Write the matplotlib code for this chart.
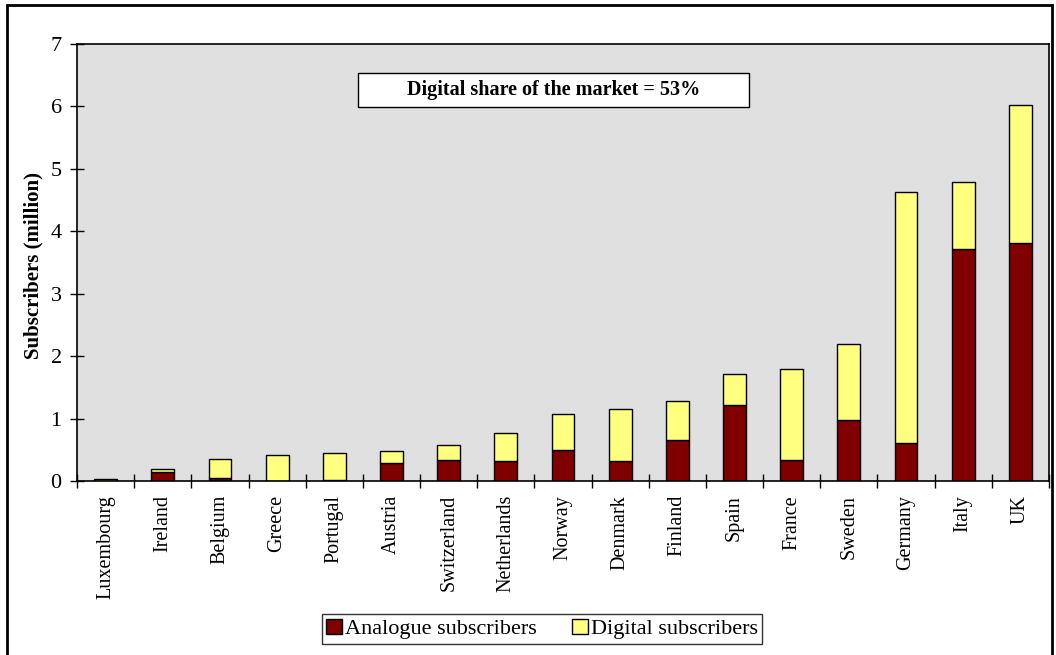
import numpy as np
import matplotlib
matplotlib.use("Agg")
from matplotlib import pyplot as plt
from matplotlib.patches import Rectangle

# subscribers in millions, by country
countries = ["Luxembourg", "Ireland", "Belgium", "Greece", "Portugal", "Austria",
             "Switzerland", "Netherlands", "Norway", "Denmark", "Finland", "Spain",
             "France", "Sweden", "Germany", "Italy", "UK"]
analogue = [0.0, 0.14, 0.05, 0.0, 0.02, 0.29, 0.33, 0.32, 0.50, 0.32, 0.65, 1.22,
            0.34, 0.97, 0.61, 3.72, 3.81]
total = [0.04, 0.19, 0.36, 0.41, 0.45, 0.48, 0.57, 0.77, 1.08, 1.15, 1.28, 1.71,
         1.80, 2.20, 4.63, 4.79, 6.03]
digital = [t - a for t, a in zip(total, analogue)]
y_ticks = [0, 1, 2, 3, 4, 5, 6, 7]
share_text = "Digital share of the market = 53%"

plt.rcParams["font.family"] = ["Liberation Serif", "DejaVu Serif"]

fig = plt.figure(figsize=(10.56, 6.55), dpi=100)
ax = fig.add_axes([77 / 1056, 1 - 481 / 655, (1049 - 77) / 1056, (481 - 44) / 655])
ax.set_facecolor("#e0e0e0")

x = np.arange(len(countries))
ax.bar(x, analogue, width=0.4, color="#800000", edgecolor="black", linewidth=1.0,
       label="Analogue subscribers")
ax.bar(x, digital, bottom=analogue, width=0.4, color="#ffff80", edgecolor="black",
       linewidth=1.0, label="Digital subscribers")

ax.set_xlim(-0.5, len(countries) - 0.5)
ax.set_ylim(0, 7)
ax.set_yticks(y_ticks)
ax.set_xticks(np.arange(len(countries) + 1) - 0.5, minor=False)
ax.set_xticklabels([])
ax.set_xticks(x, minor=True)
ax.set_xticklabels(countries, minor=True, rotation=90, fontsize=14.5)
ax.tick_params(axis="x", which="minor", length=0, pad=10)
ax.tick_params(axis="x", which="major", direction="inout", length=10, width=1)
ax.tick_params(axis="y", direction="inout", length=10, width=1, labelsize=16, pad=6)
for s in ax.spines.values():
    s.set_linewidth(1.2)

ax.set_ylabel("Subscribers (million)", fontsize=15, fontweight="bold")
ax.yaxis.set_label_coords(-0.034, 0.492)

# banner with the digital share
bx, by, bw, bh = 0.289, 0.856, 0.402, 0.078
ax.add_patch(Rectangle((bx, by), bw, bh, transform=ax.transAxes, facecolor="white",
                       edgecolor="black", linewidth=1.0, zorder=3))
ax.text(bx + bw / 2, by + bh / 2, share_text, transform=ax.transAxes, ha="center",
        va="center", fontsize=14.5, fontweight="bold", zorder=4)

leg = fig.legend(loc="center", bbox_to_anchor=(542 / 1056, 1 - 629 / 655), ncol=2,
                 fontsize=16, frameon=True, fancybox=False, edgecolor="black",
                 handlelength=0.7, handleheight=0.7, handletextpad=0.15,
                 columnspacing=1.6, borderpad=0.2)
leg.get_frame().set_linewidth(1.0)

# outer frame around the whole chart
fig.patches.append(Rectangle((7 / 1056, -0.02), (1052 - 7) / 1056, 1 - 5 / 655 + 0.02,
                             transform=fig.transFigure, fill=False,
                             edgecolor="black", linewidth=2))

fig.savefig("out.png", dpi=100)
